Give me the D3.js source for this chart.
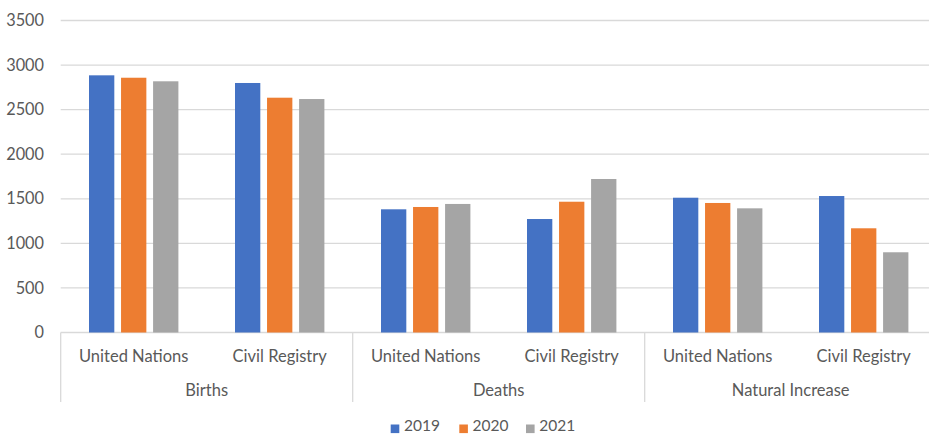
<!DOCTYPE html>
<html><head><meta charset="utf-8">
<script src="https://cdn.jsdelivr.net/npm/d3@7"></script>
<style>
html,body{margin:0;padding:0;background:#fff;}
svg{display:block;}
text{font-family:Lato,"Open Sans",sans-serif;fill:#595959;}
</style></head>
<body>
<svg id="c" width="929" height="435"></svg>
<script>
const groups = ["Births","Deaths","Natural Increase"];
const sources = ["United Nations","Civil Registry"];
const years = ["2019","2020","2021"];
const colors = ["#4472C4","#ED7D31","#A5A5A5"];
const yTicks = [0,500,1000,1500,2000,2500,3000,3500];
// values per year, order: Births UN, Births CR, Deaths UN, Deaths CR, NI UN, NI CR
const v2019 = [2885, 2799, 1382, 1273, 1512, 1531];
const v2020 = [2858, 2634, 1408, 1467, 1453, 1169];
const v2021 = [2818, 2619, 1442, 1722, 1393, 900];
const series = [v2019, v2020, v2021];

const cats = [];
groups.forEach(g => sources.forEach(s => cats.push(g + "|" + s)));

const svg = d3.select("#c");
const left = 60.7, catW = 146;
const x0 = d3.scaleBand().domain(cats).range([left, left + catW * cats.length]).padding(0);
const x1 = d3.scaleBand().domain(years).range([28.3, 117.7]).paddingInner(0.21).paddingOuter(0);
const y = d3.scaleLinear().domain([0, 3500]).range([332.5, 20.5]);

// gridlines
svg.append("g").selectAll("line").data(yTicks).join("line")
  .attr("x1", left).attr("x2", 929)
  .attr("y1", d => y(d)).attr("y2", d => y(d))
  .attr("stroke", "#d9d9d9").attr("stroke-width", 1.3);

// y labels
svg.append("g").selectAll("text").data(yTicks).join("text")
  .attr("x", 44).attr("y", d => y(d)).attr("dy", "0.35em")
  .attr("text-anchor", "end").style("font-size", "16.3px")
  .text(d => d);

// bars
years.forEach((yr, i) => {
  svg.append("g").selectAll("rect").data(series[i]).join("rect")
    .attr("x", (d, j) => x0(cats[j]) + x1(yr))
    .attr("width", x1.bandwidth())
    .attr("y", d => y(d))
    .attr("height", d => y(0) - y(d))
    .attr("fill", colors[i]);
});

// group separators
const sepX = [0, 2, 4].map(k => x0(cats[k]));
svg.append("g").selectAll("line").data(sepX).join("line")
  .attr("x1", d => d).attr("x2", d => d)
  .attr("y1", y(0)).attr("y2", 402)
  .attr("stroke", "#d9d9d9").attr("stroke-width", 1.3);

// category labels
svg.append("g").selectAll("text").data(cats).join("text")
  .attr("x", d => x0(d) + catW / 2).attr("y", 356).attr("dy", "0.35em")
  .attr("text-anchor", "middle").style("font-size", "16.5px")
  .text(d => d.split("|")[1]);

// group labels
svg.append("g").selectAll("text").data(groups).join("text")
  .attr("x", (d, k) => x0(cats[k * 2]) + catW).attr("y", 390).attr("dy", "0.35em")
  .attr("text-anchor", "middle").style("font-size", "16.5px")
  .text(d => d);

// legend
const legX = [390.7, 459.3, 526];
const lg = svg.append("g").selectAll("g").data(years).join("g")
  .attr("transform", (d, i) => `translate(${legX[i]},0)`);
lg.append("rect").attr("x", 0).attr("y", 424.5).attr("width", 8.6).attr("height", 8.6)
  .attr("fill", (d, i) => colors[i]);
lg.append("text").attr("x", 13.3).attr("y", 431.3)
  .style("font-size", "15.5px").text(d => d);
</script>
</body></html>
